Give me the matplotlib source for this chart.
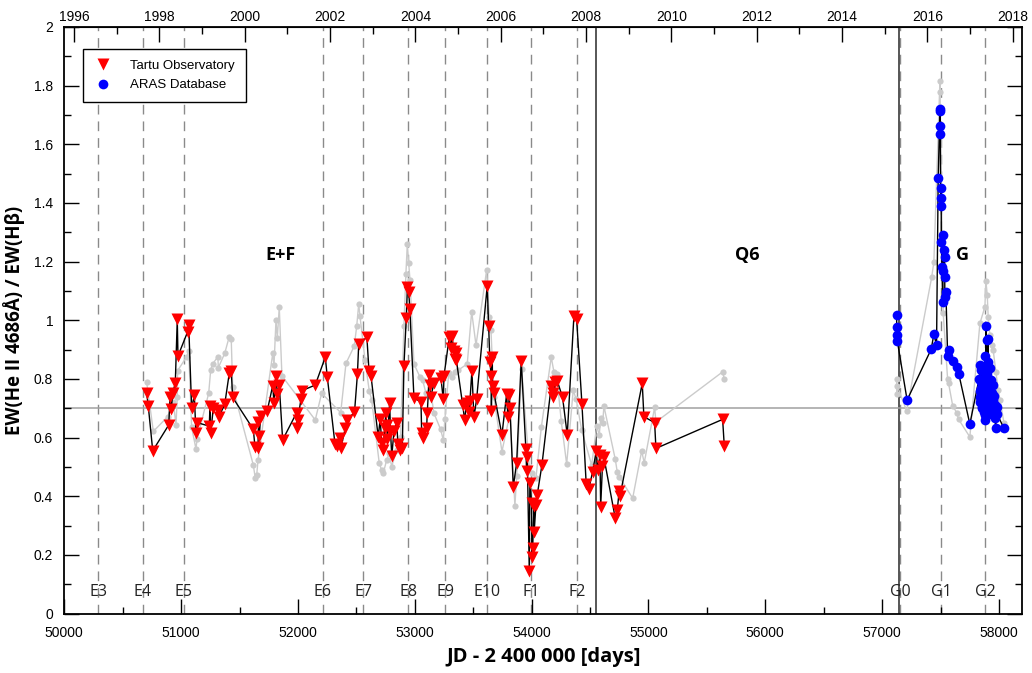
import matplotlib
matplotlib.use("Agg")
import matplotlib.pyplot as plt
from matplotlib.ticker import MultipleLocator, FixedLocator, FuncFormatter
from matplotlib.lines import Line2D

# Tartu Observatory spectra: He II 4686 / H-beta equivalent width ratio
tartu_jd = [50705, 50719, 50757, 50894, 50905, 50916, 50928, 50950, 50967, 50973,
            51056, 51065, 51090, 51113, 51127, 51136, 51241, 51247, 51253, 51275,
            51315, 51321, 51373, 51412, 51429, 51441, 51618, 51632, 51658, 51662,
            51669, 51681, 51737, 51784, 51795, 51812, 51823, 51840, 51869, 51989,
            51994, 51998, 52026, 52034, 52148, 52234, 52251, 52317, 52337, 52360,
            52366, 52405, 52420, 52484, 52509, 52520, 52590, 52608, 52625, 52687,
            52704, 52717, 52730, 52742, 52753, 52759, 52766, 52785, 52792, 52803,
            52822, 52845, 52856, 52873, 52893, 52907, 52927, 52937, 52948, 52958,
            52993, 53053, 53059, 53073, 53101, 53107, 53124, 53130, 53136, 53164,
            53224, 53244, 53250, 53295, 53307, 53318, 53335, 53340, 53352, 53356,
            53410, 53427, 53444, 53461, 53472, 53489, 53506, 53529, 53620, 53632,
            53643, 53654, 53656, 53660, 53666, 53677, 53746, 53786, 53797, 53809,
            53815, 53843, 53872, 53911, 53951, 53957, 53963, 53980, 53985, 54000,
            54002, 54009, 54020, 54022, 54037, 54048, 54088, 54168, 54180, 54185,
            54200, 54219, 54265, 54305, 54362, 54385, 54431, 54467, 54490, 54522,
            54553, 54567, 54585, 54591, 54606, 54619, 54715, 54733, 54750, 54756,
            54947, 54961, 55053, 55064, 55635, 55649]
tartu_ew = [0.751, 0.707, 0.555, 0.643, 0.737, 0.696, 0.753, 0.785, 1.003, 0.878,
            0.961, 0.984, 0.700, 0.744, 0.614, 0.651, 0.639, 0.707, 0.614, 0.700,
            0.694, 0.669, 0.713, 0.819, 0.828, 0.737, 0.628, 0.569, 0.563, 0.654,
            0.605, 0.674, 0.691, 0.777, 0.719, 0.810, 0.748, 0.779, 0.592, 0.685,
            0.631, 0.660, 0.731, 0.760, 0.779, 0.874, 0.807, 0.578, 0.571, 0.597,
            0.563, 0.631, 0.660, 0.686, 0.816, 0.918, 0.942, 0.828, 0.811, 0.603,
            0.662, 0.580, 0.557, 0.631, 0.685, 0.643, 0.595, 0.719, 0.623, 0.537,
            0.623, 0.651, 0.578, 0.557, 0.563, 0.845, 1.006, 1.114, 1.097, 1.037,
            0.734, 0.722, 0.614, 0.597, 0.631, 0.685, 0.813, 0.779, 0.737, 0.785,
            0.802, 0.730, 0.810, 0.942, 0.904, 0.946, 0.896, 0.867, 0.889, 0.864,
            0.711, 0.660, 0.719, 0.688, 0.725, 0.828, 0.669, 0.730, 1.117, 0.980,
            0.859, 0.810, 0.691, 0.874, 0.776, 0.753, 0.609, 0.748, 0.671, 0.745,
            0.700, 0.432, 0.514, 0.862, 0.560, 0.487, 0.535, 0.146, 0.444, 0.378,
            0.194, 0.222, 0.367, 0.279, 0.370, 0.404, 0.506, 0.776, 0.737, 0.751,
            0.790, 0.794, 0.737, 0.609, 1.014, 1.005, 0.713, 0.443, 0.425, 0.483,
            0.554, 0.489, 0.540, 0.363, 0.502, 0.532, 0.327, 0.353, 0.419, 0.400,
            0.785, 0.671, 0.651, 0.563, 0.662, 0.572]

# ARAS database spectra
aras_jd = [57124, 57125, 57126, 57130, 57214, 57420, 57443, 57466, 57480, 57495,
           57496, 57497, 57498, 57501, 57503, 57506, 57507, 57512, 57519, 57523,
           57524, 57529, 57535, 57536, 57537, 57546, 57561, 57572, 57609, 57638,
           57657, 57751, 57830, 57835, 57837, 57838, 57840, 57843, 57846, 57850,
           57852, 57855, 57858, 57862, 57866, 57870, 57871, 57875, 57878, 57881,
           57882, 57883, 57886, 57888, 57890, 57894, 57896, 57900, 57905, 57907,
           57910, 57915, 57920, 57922, 57926, 57928, 57932, 57937, 57940, 57945,
           57951, 57955, 57960, 57965, 57966, 57972, 57980, 57985, 58043]
aras_ew = [1.018, 0.976, 0.949, 0.930, 0.728, 0.901, 0.952, 0.915, 1.484, 1.722,
           1.713, 1.663, 1.636, 1.417, 1.452, 1.389, 1.268, 1.182, 1.061, 1.290,
           1.168, 1.239, 1.217, 1.148, 1.080, 1.097, 0.878, 0.898, 0.861, 0.841,
           0.816, 0.646, 0.800, 0.760, 0.847, 0.739, 0.720, 0.790, 0.830, 0.770,
           0.705, 0.740, 0.700, 0.800, 0.760, 0.720, 0.688, 0.840, 0.790, 0.660,
           0.878, 0.677, 0.750, 0.981, 0.710, 0.932, 0.820, 0.770, 0.935, 0.858,
           0.730, 0.800, 0.700, 0.836, 0.760, 0.796, 0.680, 0.751, 0.720, 0.780,
           0.728, 0.690, 0.740, 0.711, 0.668, 0.631, 0.705, 0.680, 0.631]

# comparison series drawn in grey
grey1_jd = [50705, 50762, 50885, 50933, 50956, 50967, 50970, 51048, 51065, 51090,
            51127, 51136, 51236, 51253, 51270, 51315, 51318, 51373, 51412, 51429,
            51441, 51618, 51635, 51647, 51658, 51784, 51795, 51812, 51823, 51840,
            51863, 52148, 52203, 52366, 52411, 52482, 52503, 52520, 52531, 52574,
            52610, 52631, 52696, 52717, 52730, 52759, 52782, 52802, 52845, 52879,
            52907, 52924, 52936, 52948, 52959, 52993, 53044, 53067, 53096, 53130,
            53164, 53221, 53244, 53258, 53290, 53316, 53344, 53372, 53449, 53487,
            53524, 53615, 53637, 53652, 53677, 53746, 53815, 53857, 53872, 53915,
            53980, 54003, 54037, 54083, 54168, 54191, 54214, 54254, 54300, 54356,
            54382, 54428, 54514, 54557, 54579, 54591, 54608, 54619, 54716, 54733,
            54750, 54865, 54942, 54964, 55053, 55064, 55635, 55649]
grey1_ew = [0.789, 0.621, 0.671, 0.722, 0.643, 0.737, 0.828, 0.876, 0.896, 0.635,
            0.561, 0.594, 0.751, 0.830, 0.851, 0.876, 0.838, 0.887, 0.944, 0.935,
            0.773, 0.506, 0.461, 0.472, 0.523, 0.887, 0.846, 1.001, 0.938, 1.044,
            0.810, 0.660, 0.751, 0.685, 0.853, 0.912, 0.980, 1.055, 1.014, 0.864,
            0.760, 0.728, 0.512, 0.489, 0.478, 0.523, 0.546, 0.501, 0.557, 0.603,
            0.980, 1.158, 1.260, 1.194, 1.137, 0.851, 0.807, 0.796, 0.751, 0.773,
            0.683, 0.628, 0.592, 0.662, 0.819, 0.807, 0.824, 0.830, 0.851, 1.029,
            0.915, 1.171, 1.012, 0.967, 0.739, 0.552, 0.683, 0.367, 0.469, 0.833,
            0.501, 0.478, 0.461, 0.635, 0.874, 0.824, 0.817, 0.655, 0.509, 0.761,
            0.730, 0.626, 0.506, 0.639, 0.609, 0.666, 0.648, 0.707, 0.526, 0.483,
            0.466, 0.393, 0.554, 0.514, 0.703, 0.653, 0.824, 0.800]

grey2_jd = [57124, 57126, 57130, 57210, 57424, 57443, 57495, 57496, 57523, 57561,
            57569, 57604, 57638, 57655, 57751, 57837, 57880, 57888, 57900, 57908,
            57922, 57937, 57951, 57974, 57994, 58009, 58043]
grey2_ew = [0.800, 0.748, 0.776, 0.691, 1.146, 1.198, 1.817, 1.777, 1.024, 0.798,
            0.785, 0.709, 0.685, 0.662, 0.602, 0.989, 1.046, 1.135, 1.086, 1.012,
            0.950, 0.915, 0.898, 0.823, 0.762, 0.728, 0.650]

# activity events (dashed) and boundaries of the active phases (solid)
event_names = ["E3", "E4", "E5", "E6", "E7", "E8", "E9", "E10", "F1", "F2",
               "G0", "G1", "G2"]
event_jd = [50289, 50672, 51023, 52214, 52560, 52945, 53262, 53616, 53999, 54387,
            57153, 57506, 57881]
phase_edges = [54548, 57148]
phase_names = ["E+F", "Q6", "G"]
phase_jd = [51850, 55850, 57690]

fig = plt.figure(figsize=(10.32, 6.73), dpi=100)
ax = fig.add_axes([0.0623, 0.0884, 0.9283, 0.8715])

for x in event_jd:
    ax.axvline(x, color="#8a8a8a", lw=1.0, ls=(0, (7, 5)), zorder=1)
for x in phase_edges:
    ax.axvline(x, color="#3a3a3a", lw=1.2, zorder=1)
ax.axhline(0.7, color="#a0a0a0", lw=1.1, zorder=1)

ax.plot(grey1_jd, grey1_ew, "-o", color="#cbcbcb", lw=1.0, ms=4.5, mec="none", zorder=2)
ax.plot(grey2_jd, grey2_ew, "-o", color="#cbcbcb", lw=1.0, ms=4.5, mec="none", zorder=2)

ax.plot(tartu_jd, tartu_ew, "-", color="black", lw=1.0, zorder=3)
ax.plot(aras_jd, aras_ew, "-", color="black", lw=1.0, zorder=3)
ax.plot(tartu_jd, tartu_ew, "v", color="#ff0000", ms=8, mec="none", zorder=4)
ax.plot(aras_jd, aras_ew, "o", color="#0000ff", ms=7, mec="none", zorder=4)

for name, x in zip(event_names, event_jd):
    ax.text(x, 0.075, name, ha="center", va="center", fontsize=11.5,
            family="Open Sans", color="#222222", zorder=5)
for name, x in zip(phase_names, phase_jd):
    ax.text(x, 1.223, name, ha="center", va="center", fontsize=13,
            family="Open Sans", fontweight="bold", zorder=5)

ax.set_xlim(50000, 58200)
ax.set_ylim(0, 2)
ax.xaxis.set_major_locator(MultipleLocator(1000))
ax.xaxis.set_minor_locator(MultipleLocator(500))
ax.yaxis.set_major_locator(MultipleLocator(0.2))
ax.yaxis.set_minor_locator(MultipleLocator(0.1))
ax.yaxis.set_major_formatter(FuncFormatter(lambda v, p: "%g" % round(v, 1)))
ax.tick_params(which="both", direction="in", top=False, right=True,
               labelsize=10, width=1.0, colors="black")
ax.tick_params(which="major", length=10.5)
ax.tick_params(which="minor", length=5)
ax.tick_params(axis="x", pad=9)
ax.tick_params(axis="y", pad=8)
for lab in ax.get_xticklabels() + ax.get_yticklabels():
    lab.set_family("Liberation Sans")
for s in ax.spines.values():
    s.set_linewidth(1.3)

# calendar years along the top
def jd2year(jd):
    return 2000 + (jd - 51544.5) / 365.25

def year2jd(y):
    return 51544.5 + (y - 2000) * 365.25

top = ax.secondary_xaxis("top", functions=(jd2year, year2jd))
top.xaxis.set_major_locator(FixedLocator(list(range(1996, 2019, 2))))
top.xaxis.set_minor_locator(FixedLocator(list(range(1997, 2019, 2))))
top.tick_params(which="both", direction="in", labelsize=10, width=1.0)
top.tick_params(which="major", length=10.5, pad=2.5)
top.tick_params(which="minor", length=5)
for lab in top.get_xticklabels():
    lab.set_family("Liberation Sans")

ax.set_xlabel("JD - 2 400 000 [days]", fontsize=14.5, fontweight="bold",
              family="Open Sans", labelpad=5)
ax.set_ylabel("EW(He II 4686Å) / EW(Hβ)", fontsize=13.5, fontweight="bold",
              family="Open Sans", labelpad=6)

handles = [Line2D([], [], ls="none", marker="v", color="#ff0000", ms=8, mec="none"),
           Line2D([], [], ls="none", marker="o", color="#0000ff", ms=7, mec="none")]
leg = ax.legend(handles, ["Tartu Observatory", "ARAS Database"], loc="upper left",
                bbox_to_anchor=(0.0195, 0.9625), borderaxespad=0, fancybox=False,
                edgecolor="black", framealpha=1, prop={"family": "Liberation Sans", "size": 9.5},
                handletextpad=1.3, borderpad=0.8, labelspacing=0.55, handlelength=1.5)
leg.get_frame().set_linewidth(1.0)

fig.savefig("out.png", dpi=100)
